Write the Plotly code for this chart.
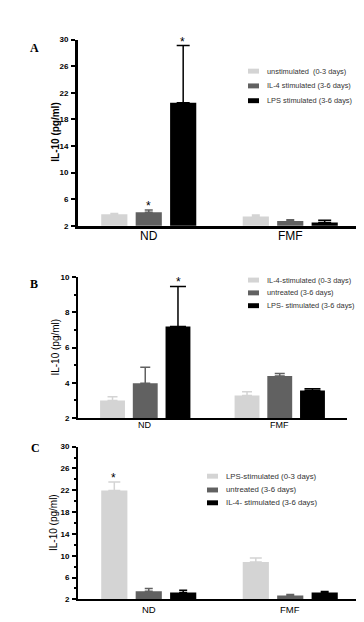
import plotly.graph_objects as go

W, H = 364, 622

categories = ["ND", "FMF"]
colors = ["#d4d4d4", "#616161", "#000000"]

# Panel A
a_names = ["unstimulated  (0-3 days)", "IL-4 stimulated (3-6 days)", "LPS stimulated (3-6 days)"]
a_vals = [[3.75, 3.42], [4.05, 2.74], [20.5, 2.49]]
a_errs = [[0.12, 0.21], [0.35, 0.19], [8.6, 0.34]]
a_stars = [(0, 1), (0, 2)]  # (category index, series index)

# Panel B
b_names = ["IL-4-stimulated (0-3 days)", "untreated (3-6 days)", "LPS- stimulated (3-6 days)"]
b_vals = [[3.0, 3.28], [3.97, 4.39], [7.2, 3.56]]
b_errs = [[0.21, 0.21], [0.92, 0.14], [2.27, 0.10]]
b_stars = [(0, 2)]

# Panel C
c_names = ["LPS-stimulated (0-3 days)", "untreated (3-6 days)", "IL-4- stimulated (3-6 days)"]
c_vals = [[21.95, 8.85], [3.5, 2.72], [3.26, 3.26]]
c_errs = [[1.55, 0.72], [0.5, 0.18], [0.42, 0.18]]
c_stars = [(0, 0)]

a_ticks = [2, 6, 10, 14, 18, 22, 26, 30]
b_ticks = [2, 4, 6, 8, 10]
c_ticks = [2, 6, 10, 14, 18, 22, 26, 30]

def px_x(p):
    return p / W

def px_y(p):
    return 1 - p / H

panels = [
    dict(key="", letter="A", names=a_names, vals=a_vals, errs=a_errs, stars=a_stars,
         ticks=a_ticks, rng=[2, 30], minor=None, xdom=[70, 353], ydom=[217, 28],
         lw=3, bargap=0.28, ggap=0.235, capw=[4, 4, 6.5], tick_bold=True, title_bold=True,
         cat_size=12, tick_size=8, leg_x=240, leg_rows=[60, 75, 90], leg_size=7.4,
         letter_xy=(26, 37), title_x=48, cat_y=227),
    dict(key="2", letter="B", names=b_names, vals=b_vals, errs=b_errs, stars=b_stars,
         ticks=b_ticks, rng=[2, 10], minor=1, xdom=[70, 339], ydom=[412, 269],
         lw=2, bargap=0.264, ggap=0.24, capw=[5, 5, 8], tick_bold=True, title_bold=False,
         cat_size=9, tick_size=8, leg_x=240, leg_rows=[272, 285, 298], leg_size=7.4,
         letter_xy=(26, 276), title_x=48, cat_y=419),
    dict(key="3", letter="C", names=c_names, vals=c_vals, errs=c_errs, stars=c_stars,
         ticks=c_ticks, rng=[2, 30], minor=2, xdom=[70, 353], ydom=[596, 441],
         lw=2, bargap=0.26, ggap=0.24, capw=[6, 4, 4], tick_bold=True, title_bold=False,
         cat_size=9.5, tick_size=8, leg_x=199, leg_rows=[471, 485, 498], leg_size=7.8,
         letter_xy=(27, 442), title_x=46, cat_y=606),
]

fig = go.Figure()
annotations = []
shapes = []

for p in panels:
    k = p["key"]
    xa = "x" + k
    ya = "y" + k
    for i, (name, v, e) in enumerate(zip(p["names"], p["vals"], p["errs"])):
        fig.add_trace(go.Bar(
            x=categories, y=v, name=name, xaxis=xa, yaxis=ya,
            marker=dict(color=colors[i], line=dict(width=0)),
            error_y=dict(type="data", array=e, symmetric=False, arrayminus=[0] * len(e),
                         color=colors[i], thickness=1.5, width=p["capw"][i]),
            showlegend=False,
        ))
    axis_font = dict(family="Liberation Sans, Arial", size=p["tick_size"], color="black",
                     weight="bold" if p["tick_bold"] else "normal")
    yaxis = dict(domain=[px_y(p["ydom"][0]), px_y(p["ydom"][1])], anchor=xa,
                 range=p["rng"], tickvals=p["ticks"], ticks="outside", ticklen=4, tickwidth=2,
                 tickcolor="black", showline=True, linewidth=p["lw"], linecolor="black",
                 showgrid=False, zeroline=False, tickfont=axis_font, ticklabelstandoff=1)
    if p["minor"]:
        yaxis["minor"] = dict(dtick=p["minor"], ticks="outside", ticklen=2.5, tickwidth=1.5,
                              tickcolor="black", showgrid=False)
    xaxis = dict(domain=[px_x(p["xdom"][0]), px_x(p["xdom"][1])], anchor=ya,
                 showline=True, linewidth=p["lw"], linecolor="black", ticks="",
                 showgrid=False, zeroline=False, showticklabels=False)
    fig.update_layout({"xaxis" + k: xaxis, "yaxis" + k: yaxis})

    # category labels
    for ci, c in enumerate(categories):
        annotations.append(dict(x=ci, y=px_y(p["cat_y"]), xref=xa, yref="paper", text=c,
                                showarrow=False, yanchor="middle",
                                font=dict(family="Liberation Sans, Arial", size=p["cat_size"], color="black")))
    # stars
    slot = (1 - p["bargap"]) / 3
    for ci, si in p["stars"]:
        top = p["vals"][si][ci] + p["errs"][si][ci]
        annotations.append(dict(x=ci + (si - 1) * slot, y=top, xref=xa, yref=ya, text="*",
                                showarrow=False, yanchor="bottom", yshift=-5,
                                font=dict(family="Liberation Sans, Arial", size=12, color="black")))
    # y title
    annotations.append(dict(x=px_x(p["title_x"]), y=(px_y(p["ydom"][0]) + px_y(p["ydom"][1])) / 2,
                            xref="paper", yref="paper", text="IL-10 (pg/ml)", textangle=-90,
                            showarrow=False, xanchor="center", yanchor="middle",
                            font=dict(family="Liberation Sans, Arial", size=10, color="black",
                                      weight="bold" if p["title_bold"] else "normal")))
    # panel letter
    annotations.append(dict(x=px_x(p["letter_xy"][0]), y=px_y(p["letter_xy"][1]), xref="paper",
                            yref="paper", text=p["letter"], showarrow=False,
                            xanchor="center", yanchor="middle",
                            font=dict(family="Liberation Serif, Times New Roman", size=12,
                                      color="black", weight="bold")))
    # legend
    lx = p["leg_x"]
    for i, (name, yrow) in enumerate(zip(p["names"], p["leg_rows"])):
        shapes.append(dict(type="rect", xref="paper", yref="paper",
                           x0=px_x(lx), x1=px_x(lx + 11), y0=px_y(yrow + 2.5), y1=px_y(yrow - 2.5),
                           fillcolor=colors[i], line=dict(width=0)))
        annotations.append(dict(x=px_x(lx + 17), y=px_y(yrow), xref="paper", yref="paper",
                                text=name, showarrow=False, xanchor="left", yanchor="middle",
                                font=dict(family="Liberation Sans, Arial", size=p["leg_size"], color="#333333")))

fig.update_layout(
    width=W, height=H, margin=dict(l=0, r=0, t=0, b=0),
    paper_bgcolor="white", plot_bgcolor="white",
    barmode="group", bargap=0.27, bargroupgap=0.24,
    showlegend=False, annotations=annotations, shapes=shapes,
)

fig.write_html("out.html")
